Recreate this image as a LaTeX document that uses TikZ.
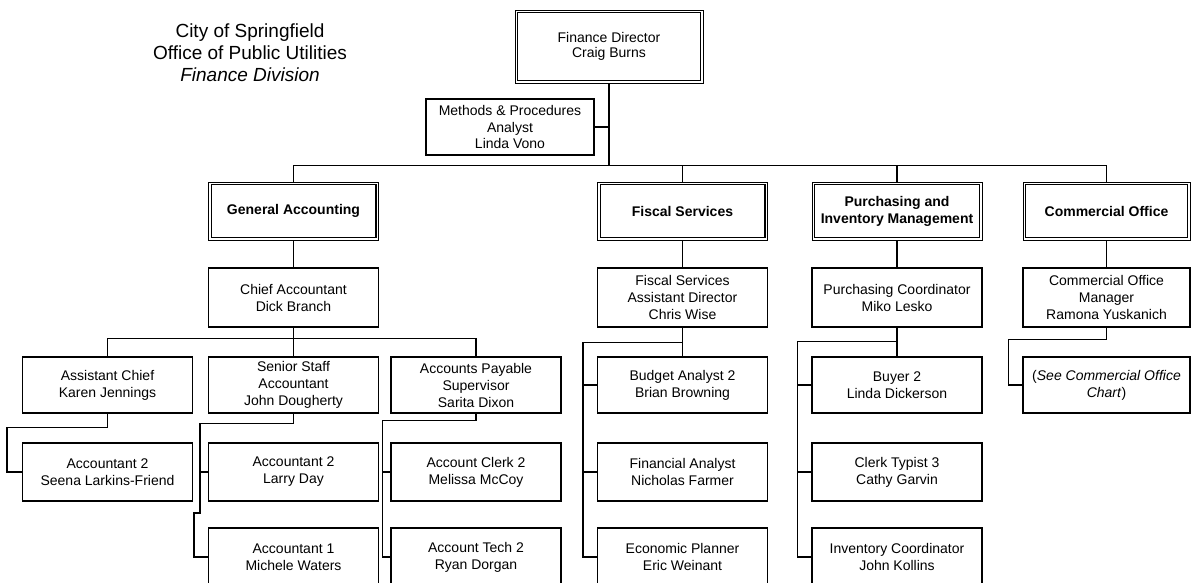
\documentclass[tikz,border=0pt]{standalone}
\usepackage{fontspec}
\setmainfont{Liberation Sans}
\usetikzlibrary{calc}
\begin{document}
\begin{tikzpicture}[x=1pt,y=-1pt,
  orgbox/.style={draw, line width=1.1pt, inner sep=0pt, align=center,
    minimum width=170pt, minimum height=57pt, font=\fontsize{14}{17}\selectfont},
  dblbox/.style={orgbox, line width=0.9pt},
  headbox/.style={dblbox, minimum height=58pt, font=\fontsize{14}{17}\selectfont\bfseries},
  innerrule/.style={line width=1.1pt},
  lvltwo/.style={orgbox, minimum height=59pt},
  lvlthree/.style={orgbox, minimum height=56pt},
  lvlfour/.style={orgbox, minimum height=58pt},
  lvlfive/.style={orgbox, minimum height=58pt},
  conn/.style={line width=1.1pt, line join=miter}]
\useasboundingbox (0,0) rectangle (1191,583);
\fill[white] (0,0) rectangle (1191,583);
\clip (0,0) rectangle (1191,583);

% heading
\node[align=center, font=\fontsize{19}{22}\selectfont] (title) at (250,53)
  {City of Springfield\\Office of Public Utilities\\\textit{Finance Division}};

% director and staff analyst
\node[dblbox, minimum width=188pt, minimum height=73pt, font=\fontsize{14}{15.5}\selectfont]
  (dir) at (609,46.5) {Finance Director\\Craig Burns};
\node[orgbox, minimum width=168pt, minimum height=56pt, font=\fontsize{14}{16.5}\selectfont]
  (meth) at (510,127) {Methods \& Procedures\\Analyst\\Linda Vono};

% divisions
\node[headbox] (ga) at (293.5,211) {General Accounting};
\node[headbox] (fs) at (682.5,211) {Fiscal Services};
\node[headbox] (pu) at (897,211) {Purchasing and\\Inventory Management};
\node[headbox, minimum width=167pt] (co) at (1106.5,211) {Commercial Office};

% inner rule of the double-framed boxes
\foreach \n in {dir,ga,fs,pu,co}
  \draw[innerrule] ($(\n.north west)+(3,3)$) rectangle ($(\n.south east)+(-3,-3)$);

% division heads
\node[lvltwo] (chief) at (293.5,297.5) {Chief Accountant\\Dick Branch};
\node[lvltwo] (fsad) at (682.5,297.5) {Fiscal Services\\Assistant Director\\Chris Wise};
\node[lvltwo] (pc) at (897,297.5) {Purchasing Coordinator\\Miko Lesko};
\node[lvltwo, minimum width=167pt] (com) at (1106.5,297.5) {Commercial Office\\Manager\\Ramona Yuskanich};

% third row
\node[lvlthree] (ac) at (107.5,385) {Assistant Chief\\Karen Jennings};
\node[lvlthree] (ssa) at (293.5,385) {Senior Staff\\Accountant\\John Dougherty};
\node[lvlthree] (aps) at (476,385) {Accounts Payable\\Supervisor\\Sarita Dixon};
\node[lvlthree] (ba) at (682.5,385) {Budget Analyst 2\\Brian Browning};
\node[lvlthree] (b2) at (897,385) {Buyer 2\\Linda Dickerson};
\node[lvlthree, minimum width=167pt] (see) at (1106.5,385)
  {(\textit{See Commercial Office}\\\textit{Chart})};

% fourth row
\node[lvlfour] (sl) at (107.5,472) {Accountant 2\\Seena Larkins-Friend};
\node[lvlfour] (ld) at (293.5,472) {Accountant 2\\Larry Day};
\node[lvlfour] (mm) at (476,472) {Account Clerk 2\\Melissa McCoy};
\node[lvlfour] (nf) at (682.5,472) {Financial Analyst\\Nicholas Farmer};
\node[lvlfour] (cg) at (897,472) {Clerk Typist 3\\Cathy Garvin};

% fifth row
\node[lvlfive] (mw) at (293.5,557) {Accountant 1\\Michele Waters};
\node[lvlfive] (rd) at (476,557) {Account Tech 2\\Ryan Dorgan};
\node[lvlfive] (ew) at (682.5,557) {Economic Planner\\Eric Weinant};
\node[lvlfive] (jk) at (897,557) {Inventory Coordinator\\John Kollins};

% director trunk and division bus
\coordinate (bus) at ($(ga.north)+(0,-16)$);
\draw[conn] (dir.south) -- (dir.south |- bus);
\draw[conn] (meth.east) -- (meth.east -| dir.south);
\draw[conn] (ga.north) -- (bus) -| (co.north);
\draw[conn] (fs.north) -- (fs.north |- bus);
\draw[conn] (pu.north) -- (pu.north |- bus);

% divisions to their heads
\draw[conn] (ga.south) -- (chief.north);
\draw[conn] (fs.south) -- (fsad.north);
\draw[conn] (pu.south) -- (pc.north);
\draw[conn] (co.south) -- (com.north);

% general accounting
\draw[conn] (chief.south) -- (ssa.north);
\draw[conn] (ac.north) -- ++(0,-18) -| (aps.north);
\draw[conn] (ac.south) -- ++(0,14) -| ($(sl.west)+(-15,0)$) -- (sl.west);
\coordinate (bj) at ($(ld.west)+(-8,0)$);
\draw[conn] (ssa.south) -- ++(0,10) -| (bj) -- ++(0,41) -- ++(-6,0) |- (mw.west);
\draw[conn] (bj) -- (ld.west);
\coordinate (cj) at ($(mm.west)+(-8,0)$);
\draw[conn] (aps.south) -- ++(0,7) -| (cj) |- (rd.west);
\draw[conn] (cj) -- (mm.west);

% fiscal services
\draw[conn] (fsad.south) -- (ba.north);
\draw[conn] ($(fsad.south)+(0,15)$) -| ($(ew.west)+(-14,0)$) -- (ew.west);
\draw[conn] (ba.west) -- ++(-14,0);
\draw[conn] (nf.west) -- ++(-14,0);

% purchasing
\draw[conn] (pc.south) -- (b2.north);
\draw[conn] ($(pc.south)+(0,14)$) -| ($(jk.west)+(-14,0)$) -- (jk.west);
\draw[conn] (b2.west) -- ++(-14,0);
\draw[conn] (cg.west) -- ++(-14,0);

% commercial office
\draw[conn] (com.south) -- ++(0,12) -| ($(see.west)+(-14,0)$) -- (see.west);
\end{tikzpicture}
\end{document}
